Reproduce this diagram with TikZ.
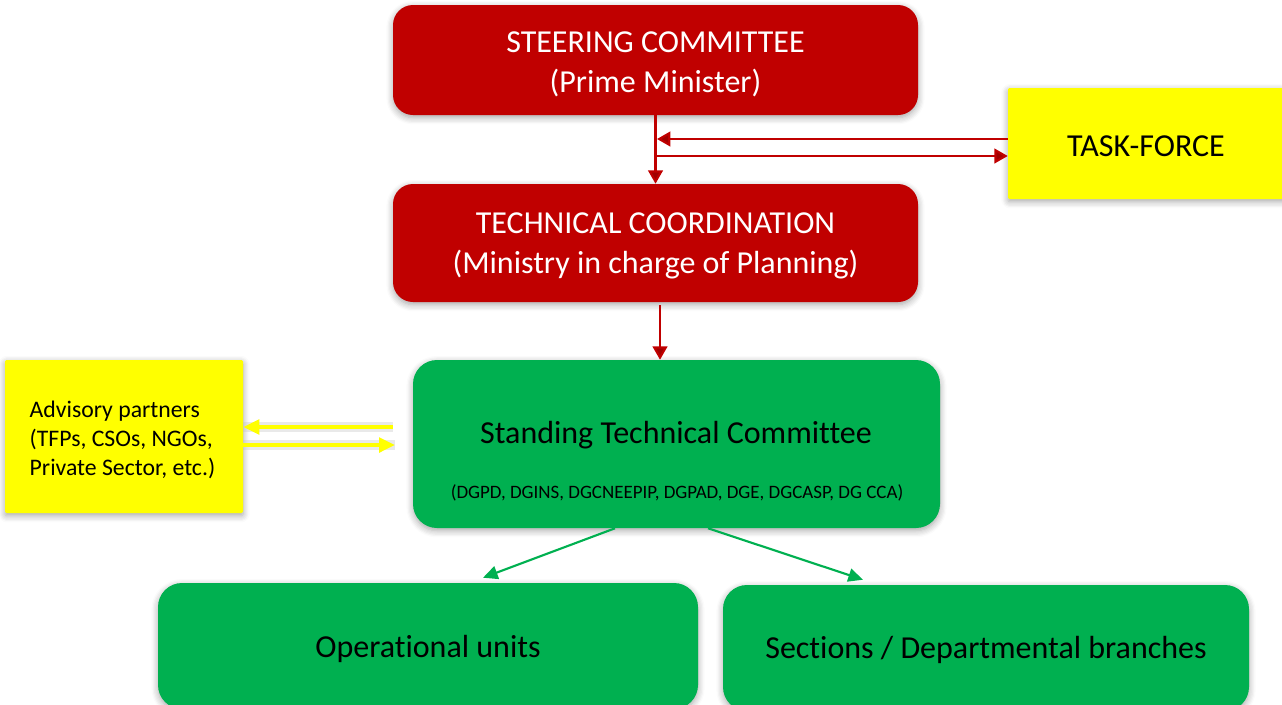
\documentclass[tikz,border=0pt]{standalone}
\usepackage{fontspec}
\setmainfont{Carlito}[Ligatures=NoCommon]
\usetikzlibrary{arrows.meta,shadows.blur,calc}
\definecolor{boxred}{HTML}{C00000}
\definecolor{boxgreen}{HTML}{00B050}
\definecolor{boxyellow}{HTML}{FFFF00}
\definecolor{tipred}{HTML}{A00000}
\tikzset{
  softshadow/.style={blur shadow={shadow blur steps=6, shadow xshift=0pt, shadow yshift=-2pt, shadow opacity=35, shadow blur radius=5pt}},
  redbox/.style={fill=boxred, draw=none, rounded corners=15pt, softshadow},
  greenbox/.style={fill=boxgreen, draw=none, rounded corners=18pt, text=black, align=center, softshadow},
  yellowbox/.style={fill=boxyellow, draw=none, rounded corners=1pt, text=black, softshadow},
  bigtext/.style={font=\fontsize{24}{30}\selectfont},
  whitetext/.style={text=white, align=center, font=\fontsize{24}{30}\selectfont},
  redarrow/.style={draw=boxred, line width=1.6pt, -{Triangle[length=10pt,width=11pt,fill=tipred]}},
  greenarrow/.style={draw=boxgreen, line width=1.6pt, -{Triangle[length=11pt,width=10pt]}},
  yellowarrow/.style={draw=boxyellow, line width=2.6pt, -{Triangle[length=12pt,width=11pt]},
     preaction={draw=black!25, opacity=0.35, line width=7pt, -}},
}
\begin{document}
\begin{tikzpicture}[x=0.75pt,y=-0.75pt]
\useasboundingbox (0,0) rectangle (1282,704);
\clip (0,0) rectangle (1282,704);

% boxes
\node[redbox, minimum width=393.75pt, minimum height=82.5pt] (steer) at (655.5,60) {};
\node[whitetext] (steertext) at (655.5,64) {STEERING COMMITTEE\\(Prime Minister)};
\node[redbox, minimum width=393.75pt, minimum height=88.5pt] (tech) at (655.5,243) {};
\node[whitetext] (techtext) at (655.5,246) {TECHNICAL COORDINATION\\(Ministry in charge of Planning)};
\node[yellowbox, minimum width=210pt, minimum height=83.25pt] (task) at (1148,143.5) {};
\node[bigtext] (tasktext) at (1146,146) {TASK-FORCE};
\node[greenbox, minimum width=395.25pt, minimum height=126pt] (std) at (676.5,444) {};
\node[bigtext] (stdtitle) at (676,435) {Standing Technical Committee};
\node[font=\fontsize{14.2}{17}\selectfont] (stdsub) at (677,493) {(DGPD, DGINS, DGCNEEPIP, DGPAD, DGE, DGCASP, DG CCA)};
\node[yellowbox, minimum width=178.5pt, minimum height=114.75pt] (adv) at (124,436.5) {};
\node[font=\fontsize{17.8}{21.75}\selectfont, align=left, anchor=west] (advtext) at (25,440)
  {Advisory partners\\(TFPs, CSOs, NGOs,\\Private Sector, etc.)};
\node[greenbox, minimum width=405pt, minimum height=94.5pt] (ops) at (428,646) {};
\node[bigtext] (opstext) at (428,649) {Operational units};
\node[greenbox, minimum width=394.5pt, minimum height=94.5pt] (sec) at (986,648) {};
\node[bigtext] (sectext) at (986,650) {Sections / Departmental branches};

% connectors
\coordinate (tfL) at (657,139);
\coordinate (tfR) at (657,156);
\draw[redarrow] (steer.south) -- (tech.north);
\draw[redarrow] (task.west |- tfL) -- (tfL);
\draw[redarrow] (tfR) -- (task.west |- tfR);
\draw[redarrow] ($(tech.south)+(4.5,3)$) -- ($(tech.south |- std.north)+(4.5,0)$);

\coordinate (yA) at (393,427);
\coordinate (yB) at (395,445);
\draw[yellowarrow] (yA) -- (adv.east |- yA);
\draw[yellowarrow] (adv.east |- yB) -- (yB);

\draw[greenarrow] ($(std.south)+(-61.5,0)$) -- ($(ops.north)+(55,-5)$);
\draw[greenarrow] ($(std.south)+(31.5,0)$) -- ($(sec.north)+(-123,-5)$);
\end{tikzpicture}
\end{document}
